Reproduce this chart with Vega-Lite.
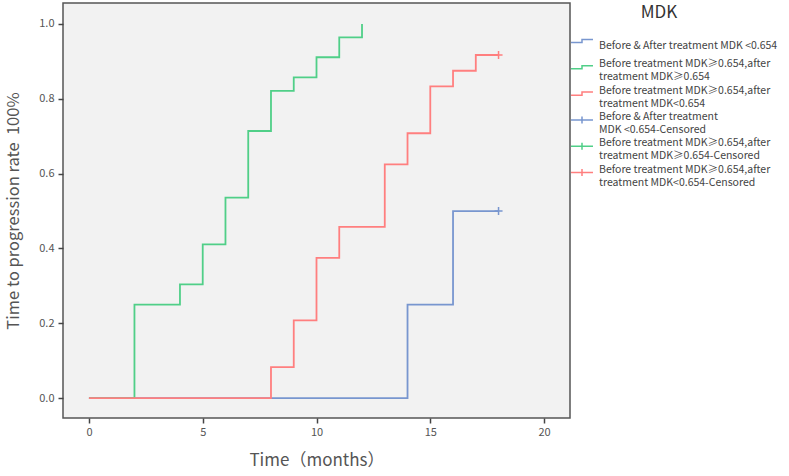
{
  "$schema": "https://vega.github.io/schema/vega-lite/v6.json",
  "width": 507,
  "height": 415,
  "autosize": {"type": "none"},
  "padding": {"left": 63, "top": 3, "right": 219, "bottom": 58},
  "background": "white",
  "config": {
    "font": "Noto Sans CJK SC",
    "view": {"fill": "#f2f2f2", "stroke": "#555555", "strokeWidth": 1.5}
  },
  "datasets": {
    "curves": [
      {"series": "Before & After treatment MDK <0.654", "time": 0, "rate": 0},
      {"series": "Before & After treatment MDK <0.654", "time": 14, "rate": 0.25},
      {"series": "Before & After treatment MDK <0.654", "time": 16, "rate": 0.5},
      {"series": "Before & After treatment MDK <0.654", "time": 18, "rate": 0.5},
      {"series": "Before treatment MDK≥0.654,after treatment MDK≥0.654", "time": 0, "rate": 0},
      {"series": "Before treatment MDK≥0.654,after treatment MDK≥0.654", "time": 2, "rate": 0.25},
      {"series": "Before treatment MDK≥0.654,after treatment MDK≥0.654", "time": 4, "rate": 0.304},
      {"series": "Before treatment MDK≥0.654,after treatment MDK≥0.654", "time": 5, "rate": 0.411},
      {"series": "Before treatment MDK≥0.654,after treatment MDK≥0.654", "time": 6, "rate": 0.536},
      {"series": "Before treatment MDK≥0.654,after treatment MDK≥0.654", "time": 7, "rate": 0.714},
      {"series": "Before treatment MDK≥0.654,after treatment MDK≥0.654", "time": 8, "rate": 0.821},
      {"series": "Before treatment MDK≥0.654,after treatment MDK≥0.654", "time": 9, "rate": 0.857},
      {"series": "Before treatment MDK≥0.654,after treatment MDK≥0.654", "time": 10, "rate": 0.911},
      {"series": "Before treatment MDK≥0.654,after treatment MDK≥0.654", "time": 11, "rate": 0.964},
      {"series": "Before treatment MDK≥0.654,after treatment MDK≥0.654", "time": 12, "rate": 1.0},
      {"series": "Before treatment MDK≥0.654,after treatment MDK<0.654", "time": 0, "rate": 0},
      {"series": "Before treatment MDK≥0.654,after treatment MDK<0.654", "time": 8, "rate": 0.083},
      {"series": "Before treatment MDK≥0.654,after treatment MDK<0.654", "time": 9, "rate": 0.208},
      {"series": "Before treatment MDK≥0.654,after treatment MDK<0.654", "time": 10, "rate": 0.375},
      {"series": "Before treatment MDK≥0.654,after treatment MDK<0.654", "time": 11, "rate": 0.458},
      {"series": "Before treatment MDK≥0.654,after treatment MDK<0.654", "time": 13, "rate": 0.625},
      {"series": "Before treatment MDK≥0.654,after treatment MDK<0.654", "time": 14, "rate": 0.708},
      {"series": "Before treatment MDK≥0.654,after treatment MDK<0.654", "time": 15, "rate": 0.833},
      {"series": "Before treatment MDK≥0.654,after treatment MDK<0.654", "time": 16, "rate": 0.875},
      {"series": "Before treatment MDK≥0.654,after treatment MDK<0.654", "time": 17, "rate": 0.917},
      {"series": "Before treatment MDK≥0.654,after treatment MDK<0.654", "time": 18, "rate": 0.917}
    ],
    "censored": [
      {"series": "Before & After treatment MDK <0.654-Censored", "time": 18, "rate": 0.5},
      {"series": "Before treatment MDK≥0.654,after treatment MDK<0.654-Censored", "time": 18, "rate": 0.917}
    ]
  },
  "layer": [
    {
      "data": {"name": "curves"},
      "mark": {"type": "line", "interpolate": "step-after", "strokeWidth": 1.8},
      "encoding": {
        "x": {
          "field": "time", "type": "quantitative",
          "scale": {"domain": [-1.14, 21.14], "nice": false, "zero": false},
          "axis": {
            "values": [0, 5, 10, 15, 20], "grid": false, "domain": false,
            "title": "Time（months）", "titleFontSize": 17, "titleFontWeight": "normal", "titleColor": "#555555", "titlePadding": 15,
            "tickColor": "#444444", "tickSize": 5, "tickWidth": 1.5,
            "labelColor": "#555555", "labelFontSize": 11, "labelPadding": 3
          }
        },
        "y": {
          "field": "rate", "type": "quantitative",
          "scale": {"domain": [-0.053, 1.056], "nice": false, "zero": false},
          "axis": {
            "values": [0, 0.2, 0.4, 0.6, 0.8, 1.0], "format": ".1f", "grid": false, "domain": false,
            "title": "Time to progression rate\u00a0\u00a0100%", "titleFontSize": 16.5, "titleFontWeight": "normal", "titleColor": "#555555", "titlePadding": 17,
            "tickColor": "#444444", "tickSize": 5, "tickWidth": 1.5,
            "labelColor": "#555555", "labelFontSize": 11, "labelPadding": 4
          }
        },
        "color": {
          "field": "series", "type": "nominal",
          "scale": {
            "domain": [
              "Before & After treatment MDK <0.654",
              "Before treatment MDK≥0.654,after treatment MDK≥0.654",
              "Before treatment MDK≥0.654,after treatment MDK<0.654",
              "Before & After treatment MDK <0.654-Censored",
              "Before treatment MDK≥0.654,after treatment MDK≥0.654-Censored",
              "Before treatment MDK≥0.654,after treatment MDK<0.654-Censored"
            ],
            "range": ["#7896cf", "#50cf88", "#ff7f7f", "#7896cf", "#50cf88", "#ff7f7f"]
          },
          "legend": {
            "orient": "none", "legendX": 511, "legendY": 2, "padding": 0,
            "title": "MDK", "titleFontSize": 17, "titleFontWeight": "normal", "titleColor": "#333333",
            "titleAnchor": "middle", "titlePadding": 11,
            "gridAlign": "all",
            "symbolSize": 196, "labelOffset": 9, "labelFontSize": 10.5, "labelColor": "#444444", "labelLimit": 300,
            "rowPadding": 2.3,
            "labelExpr": "split(replace(replace(datum.label, ',after treatment', ',after|treatment'), 'After treatment MDK <0.654-', 'After treatment|MDK <0.654-'), '|')",
            "encode": {
              "title": {"update": {"dx": {"value": -17}}},
              "symbols": {
                "update": {
                  "shape": {"signal": "indexof(datum.value, 'Censored') >= 0 ? 'M-1.57,0H1.57M0,-0.5V0.5' : 'M-1.57,0.22H0V-0.22H1.57'"},
                  "fill": {"value": "transparent"},
                  "strokeWidth": {"value": 1.5},
                  "opacity": {"value": 1}
                }
              },
              "labels": {
                "update": {
                  "lineHeight": {"value": 13},
                  "dy": {"signal": "(indexof(datum.value, 'after') >= 0 || indexof(datum.value, 'Censored') >= 0) ? -3 : 5"}
                }
              }
            }
          }
        }
      }
    },
    {
      "data": {"name": "censored"},
      "mark": {"type": "point", "shape": "M-1,0H1M0,-1V1", "size": 64, "filled": false, "strokeWidth": 1.5, "opacity": 1},
      "encoding": {
        "x": {"field": "time", "type": "quantitative"},
        "y": {"field": "rate", "type": "quantitative"},
        "color": {"field": "series", "type": "nominal"}
      }
    }
  ]
}
